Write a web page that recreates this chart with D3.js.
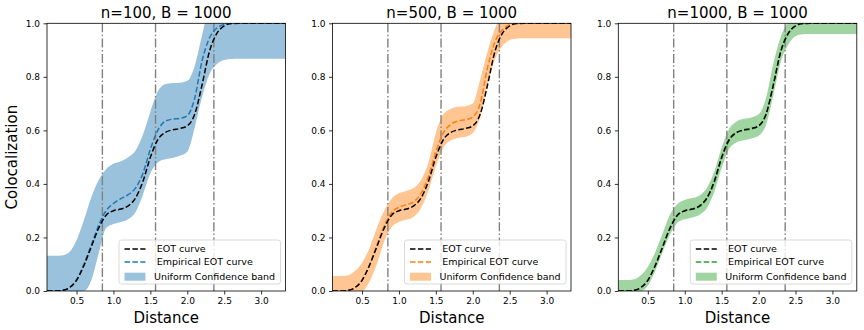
<!DOCTYPE html>
<html>
<head>
<meta charset="utf-8">
<script src="https://cdn.jsdelivr.net/npm/d3@7"></script>
<style>
  body { margin: 0; background: #fff; }
  svg { font-family: "DejaVu Sans", sans-serif; }
</style>
</head>
<body>
<div id="chart"></div>
<script>
// distance grid (shared by every series)
var distance = [0.1, 0.2, 0.3, 0.4, 0.5, 0.6, 0.7, 0.8, 0.9, 1.0, 1.1, 1.2, 1.3, 1.4, 1.5, 1.6, 1.7, 1.8, 1.9, 2.0, 2.1, 2.2, 2.3, 2.4, 2.5, 2.6, 2.7, 3.0, 3.33];

// true EOT curve, same in all panels
var eotCurve = [0, 0, 0.002, 0.012, 0.04, 0.095, 0.165, 0.235, 0.283, 0.300, 0.306, 0.318, 0.348, 0.41, 0.50, 0.565, 0.592, 0.602, 0.607, 0.617, 0.66, 0.77, 0.895, 0.962, 0.99, 0.999, 1, 1, 1];

// n = 100
var emp100 = [0, 0, 0.002, 0.012, 0.042, 0.10, 0.172, 0.245, 0.30, 0.327, 0.345, 0.36, 0.385, 0.44, 0.53, 0.60, 0.634, 0.642, 0.645, 0.655, 0.72, 0.86, 0.945, 0.982, 0.996, 1, 1, 1, 1];
var upper100 = [0.132, 0.132, 0.133, 0.145, 0.19, 0.265, 0.35, 0.415, 0.455, 0.475, 0.485, 0.50, 0.525, 0.585, 0.67, 0.745, 0.772, 0.777, 0.778, 0.785, 0.84, 0.955, 1.07, 1.11, 1.125, 1.13, 1.132, 1.132, 1.132];
var lower100 = [0, 0, 0, 0, 0, 0, 0.04, 0.14, 0.235, 0.25, 0.258, 0.268, 0.295, 0.36, 0.44, 0.48, 0.492, 0.497, 0.505, 0.52, 0.61, 0.725, 0.81, 0.848, 0.863, 0.867, 0.868, 0.868, 0.868];

// n = 500
var emp500 = [0, 0, 0.002, 0.012, 0.04, 0.097, 0.17, 0.243, 0.293, 0.313, 0.322, 0.333, 0.365, 0.428, 0.52, 0.59, 0.622, 0.635, 0.64, 0.65, 0.70, 0.835, 0.93, 0.975, 0.995, 1, 1, 1, 1];
var upper500 = [0.056, 0.056, 0.058, 0.075, 0.105, 0.16, 0.235, 0.30, 0.345, 0.365, 0.374, 0.385, 0.415, 0.48, 0.59, 0.66, 0.68, 0.688, 0.69, 0.70, 0.79, 0.895, 0.98, 1.03, 1.05, 1.056, 1.056, 1.056, 1.056];
var lower500 = [0, 0, 0, 0, 0, 0.035, 0.10, 0.185, 0.238, 0.258, 0.266, 0.277, 0.31, 0.375, 0.465, 0.535, 0.562, 0.572, 0.576, 0.59, 0.65, 0.775, 0.865, 0.915, 0.938, 0.943, 0.944, 0.944, 0.944];

// n = 1000
var emp1000 = [0, 0, 0.002, 0.012, 0.04, 0.094, 0.163, 0.233, 0.282, 0.299, 0.305, 0.315, 0.345, 0.405, 0.495, 0.562, 0.59, 0.60, 0.605, 0.615, 0.658, 0.77, 0.893, 0.96, 0.99, 0.999, 1, 1, 1];
var upper1000 = [0.041, 0.041, 0.043, 0.058, 0.09, 0.145, 0.215, 0.285, 0.325, 0.34, 0.347, 0.357, 0.385, 0.445, 0.535, 0.605, 0.632, 0.643, 0.648, 0.66, 0.72, 0.85, 0.95, 1.005, 1.03, 1.04, 1.041, 1.041, 1.041];
var lower1000 = [0, 0, 0, 0, 0.02, 0.075, 0.145, 0.21, 0.255, 0.268, 0.275, 0.285, 0.31, 0.37, 0.46, 0.53, 0.555, 0.563, 0.57, 0.58, 0.62, 0.73, 0.855, 0.92, 0.952, 0.959, 0.96, 0.96, 0.96];

var titles = ["n=100, B = 1000", "n=500, B = 1000", "n=1000, B = 1000"];
var colors = ["#1f77b4", "#ff7f0e", "#2ca02c"];
var markers = [0.85, 1.57, 2.36];
var xTicks = [0.5, 1.0, 1.5, 2.0, 2.5, 3.0];
var yTicks = [0, 0.2, 0.4, 0.6, 0.8, 1.0];
var legendLabels = ["EOT curve", "Empirical EOT curve", "Uniform Confidence band"];

var panels = [
  {title: titles[0], color: colors[0], emp: emp100, upper: upper100, lower: lower100},
  {title: titles[1], color: colors[1], emp: emp500, upper: upper500, lower: lower500},
  {title: titles[2], color: colors[2], emp: emp1000, upper: upper1000, lower: lower1000}
];

var width = 864,
    height = 330,
    lefts = [47, 332.5, 618.3],
    plotW = 238.5,
    plotTop = 23.3,
    plotBottom = 291,
    plotH = plotBottom - plotTop;

var svg = d3.select("#chart").append("svg")
    .attr("width", width)
    .attr("height", height);

var x = d3.scaleLinear().domain([0.1, 3.33]).range([0, plotW]);
var y = d3.scaleLinear().domain([0, 1]).range([plotH, 0]);

var line = function(vals){
  return d3.line()
      .x(function(d, i){ return x(distance[i]); })
      .y(function(d){ return y(d); })
      .curve(d3.curveMonotoneX)(vals);
};

panels.forEach(function(p, k){
  var g = svg.append("g")
      .attr("transform", "translate(" + lefts[k] + "," + plotTop + ")");

  g.append("clipPath").attr("id", "clip" + k)
    .append("rect").attr("width", plotW).attr("height", plotH);

  var plot = g.append("g").attr("clip-path", "url(#clip" + k + ")");

  var area = d3.area()
      .x(function(d, i){ return x(distance[i]); })
      .y0(function(d, i){ return y(p.lower[i]); })
      .y1(function(d){ return y(d); })
      .curve(d3.curveMonotoneX);

  plot.append("path")
      .attr("d", area(p.upper))
      .attr("fill", p.color)
      .attr("fill-opacity", 0.45);

  plot.selectAll(".marker")
      .data(markers)
    .enter().append("line")
      .attr("class", "marker")
      .attr("x1", function(d){ return x(d); })
      .attr("x2", function(d){ return x(d); })
      .attr("y1", 0)
      .attr("y2", plotH)
      .attr("stroke", "#808080")
      .attr("stroke-width", 1.4)
      .attr("stroke-dasharray", "9,2.4,1.5,2.4");

  plot.append("path")
      .attr("d", line(p.emp))
      .attr("fill", "none")
      .attr("stroke", p.color)
      .attr("stroke-width", 1.5)
      .attr("stroke-dasharray", "5.5,2.4");

  plot.append("path")
      .attr("d", line(eotCurve))
      .attr("fill", "none")
      .attr("stroke", "#000")
      .attr("stroke-width", 1.5)
      .attr("stroke-dasharray", "5.5,2.4");

  // axes
  var xAxis = g.append("g")
      .attr("transform", "translate(0," + plotH + ")")
      .call(d3.axisBottom(x).tickValues(xTicks).tickFormat(d3.format(".1f")).tickSize(3.5).tickPadding(3.5));
  var yAxis = g.append("g")
      .call(d3.axisLeft(y).tickValues(yTicks).tickFormat(d3.format(".1f")).tickSize(3.5).tickPadding(3.5));

  [xAxis, yAxis].forEach(function(a){
    a.select(".domain").remove();
    a.selectAll("line").attr("stroke", "#000").attr("stroke-width", 0.8);
    a.selectAll("text").attr("font-size", 9).attr("fill", "#000")
        .attr("font-family", "DejaVu Sans, sans-serif");
  });

  g.append("rect")
      .attr("width", plotW)
      .attr("height", plotH)
      .attr("fill", "none")
      .attr("stroke", "#000")
      .attr("stroke-width", 0.8);

  g.append("text")
      .attr("x", plotW / 2)
      .attr("y", -5.5)
      .attr("text-anchor", "middle")
      .attr("font-size", 15)
      .text(p.title);

  g.append("text")
      .attr("x", plotW / 2)
      .attr("y", plotH + 32)
      .attr("text-anchor", "middle")
      .attr("font-size", 15)
      .text("Distance");

  // legend
  var lw = 161.5, lh = 44;
  var leg = g.append("g")
      .attr("transform", "translate(" + (plotW - 5 - lw) + "," + (240 - plotTop) + ")");

  leg.append("rect")
      .attr("width", lw)
      .attr("height", lh)
      .attr("rx", 2.5)
      .attr("fill", "#fff")
      .attr("fill-opacity", 0.8)
      .attr("stroke", "#d0d0d0")
      .attr("stroke-width", 0.8);

  var rows = [9, 22, 36.7];
  ["#000", p.color].forEach(function(c, i){
    leg.append("line")
        .attr("x1", 5.5).attr("x2", 26.5)
        .attr("y1", rows[i]).attr("y2", rows[i])
        .attr("stroke", c)
        .attr("stroke-width", 1.5)
        .attr("stroke-dasharray", "5.5,2.4");
  });
  leg.append("rect")
      .attr("x", 5.5).attr("y", rows[2] - 4)
      .attr("width", 21).attr("height", 8)
      .attr("fill", p.color)
      .attr("fill-opacity", 0.45);

  leg.selectAll(".lbl")
      .data(legendLabels)
    .enter().append("text")
      .attr("class", "lbl")
      .attr("x", function(d, i){ return i < 2 ? 37.7 : 35; })
      .attr("y", function(d, i){ return rows[i]; })
      .attr("dy", "0.35em")
      .attr("font-size", 9.5)
      .text(function(d){ return d; });
});

svg.append("text")
    .attr("transform", "translate(17," + (plotTop + plotH / 2) + ") rotate(-90)")
    .attr("text-anchor", "middle")
    .attr("font-size", 15)
    .text("Colocalization");
</script>
</body>
</html>
